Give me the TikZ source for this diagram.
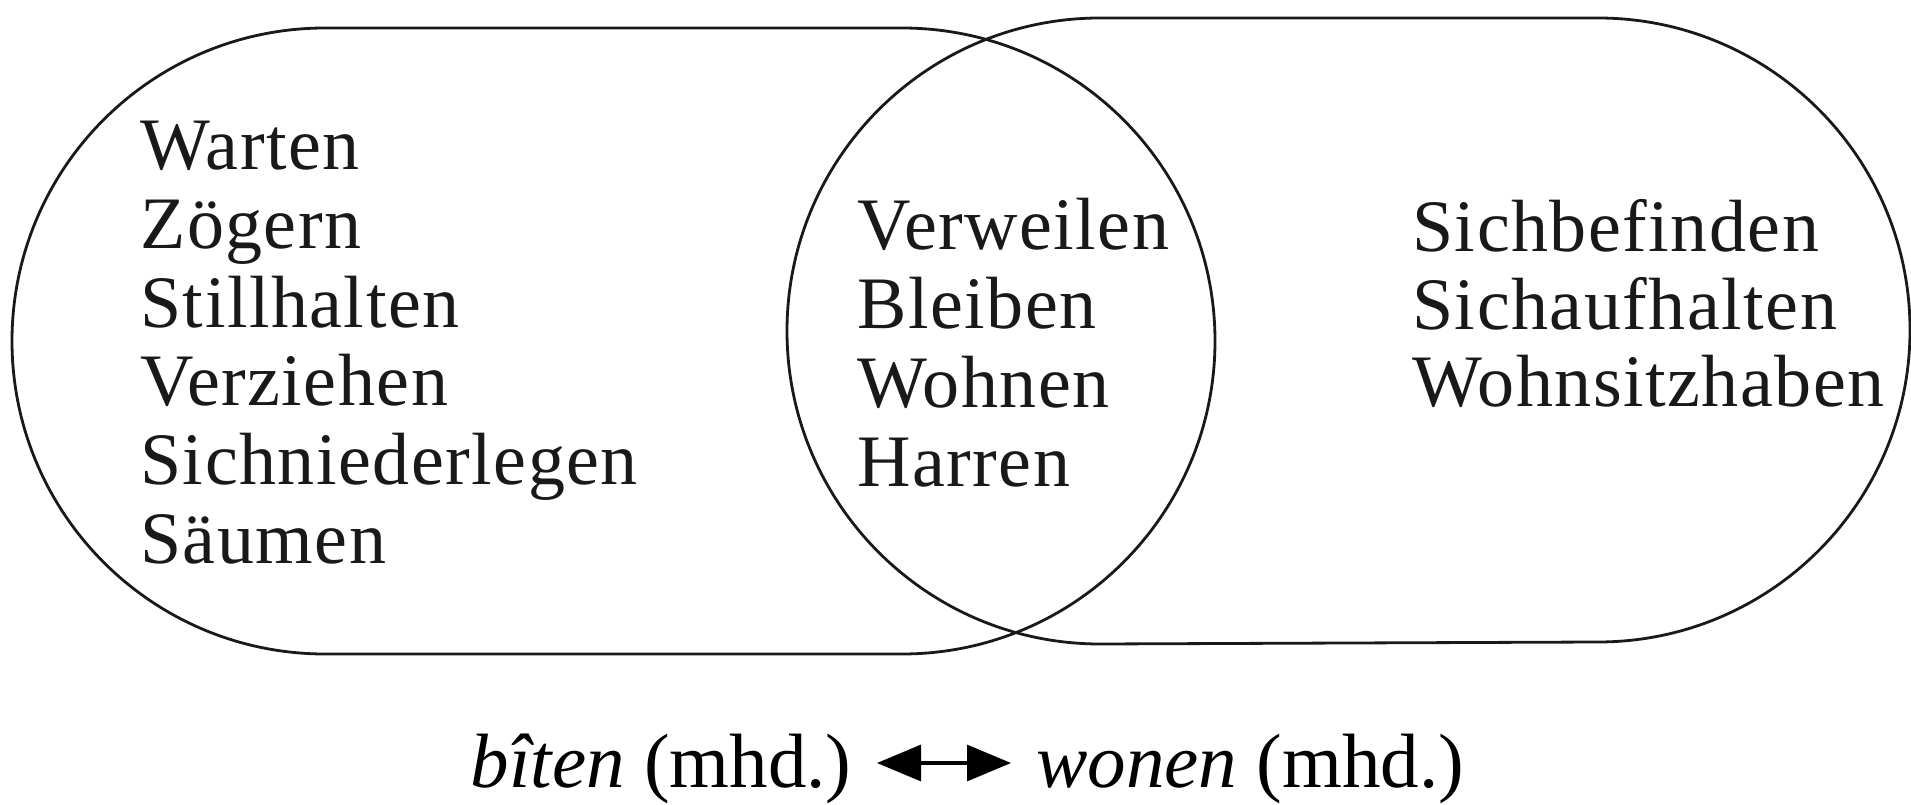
\documentclass[tikz,border=0pt]{standalone}
\usepackage{fontspec}
\setmainfont{Liberation Serif}
\newfontfamily\spacedserif[LetterSpace=2]{Liberation Serif}
\usetikzlibrary{arrows.meta}
\tikzset{
  x=0.5pt, y=0.5pt,
  blob/.style={draw=black!90, line width=1.4pt},
  word/.style={anchor=base west, inner sep=0pt, font=\spacedserif\fontsize{37pt}{39pt}\selectfont, text=black!90},
  caption/.style={inner sep=0pt, font=\fontsize{38.5pt}{40pt}\selectfont},
  biarrow/.style={line width=1.6pt, {Triangle[length=22pt,width=18pt]}-{Triangle[length=22pt,width=18pt]}}
}
\begin{document}
\begin{tikzpicture}
\useasboundingbox (0,0) rectangle (1911,804);
% left stadium
\draw[blob] (325,776) -- (902,776) arc[start angle=90, end angle=-90, radius=313]
  -- (325,150) arc[start angle=270, end angle=90, radius=313] -- cycle;
% right stadium
\draw[blob] (1100,786) -- (1598,786) arc[start angle=90, end angle=-90, radius=312]
  -- (1100,160) arc[start angle=270, end angle=90, radius=313] -- cycle;
% left words
\node[word] (l1) at (140,634) {Warten};
\node[word] (l2) at (140,555.4) {Zögern};
\node[word] (l3) at (140,476.8) {Stillhalten};
\node[word] (l4) at (140,398.2) {Verziehen};
\node[word] (l5) at (140,319.6) {Sichniederlegen};
\node[word] (l6) at (140,241) {Säumen};
% middle words
\node[word] (m1) at (857,554) {Verweilen};
\node[word] (m2) at (857,475) {Bleiben};
\node[word] (m3) at (857,396) {Wohnen};
\node[word] (m4) at (857,317) {Harren};
% right words
\node[word] (r1) at (1412,552) {Sichbefinden};
\node[word] (r2) at (1412,474.5) {Sichaufhalten};
\node[word] (r3) at (1412,397) {Wohnsitzhaben};
% caption
\node[caption, anchor=base east] (bl) at (852,17) {\textit{bîten} (mhd.)};
\node[caption, anchor=base west] (wl) at (1036,17) {\textit{wonen} (mhd.)};
\coordinate (aL) at (877,41);
\coordinate (aR) at (1011,41);
\draw[biarrow] (aL) -- (aR);
\end{tikzpicture}
\end{document}
